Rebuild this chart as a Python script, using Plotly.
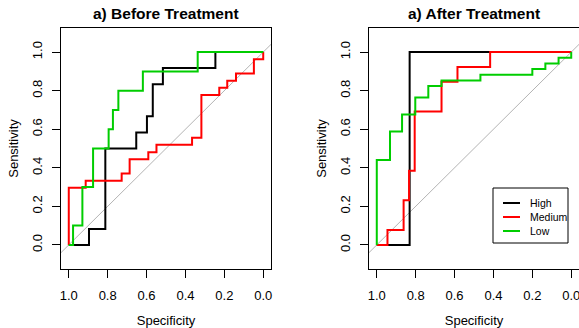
import plotly.graph_objects as go

# ---------------- data ----------------
tick_vals = [0.0, 0.2, 0.4, 0.6, 0.8, 1.0]
tick_text = ["0.0", "0.2", "0.4", "0.6", "0.8", "1.0"]

groups = ["High", "Medium", "Low"]
colors = {"High": "#000000", "Medium": "#FF0000", "Low": "#00CD00"}

# Before treatment: ROC corner points (specificity, sensitivity)
before_high_spec = [1.0, 0.896, 0.812, 0.653, 0.598, 0.568, 0.516, 0.246, 0.0]
before_high_sens = [0.0, 0.083, 0.500, 0.583, 0.667, 0.833, 0.917, 1.0, 1.0]

before_med_spec = [1.0, 1.0, 0.913, 0.728, 0.687, 0.591, 0.549, 0.366, 0.318,
                   0.226, 0.185, 0.140, 0.048, 0.0]
before_med_sens = [0.0, 0.296, 0.333, 0.370, 0.444, 0.481, 0.519, 0.556, 0.778,
                   0.815, 0.852, 0.889, 0.963, 1.0]

before_low_spec = [1.0, 0.978, 0.930, 0.875, 0.795, 0.773, 0.745, 0.619, 0.337, 0.0]
before_low_sens = [0.0, 0.100, 0.300, 0.500, 0.600, 0.700, 0.800, 0.900, 1.0, 1.0]

# After treatment
after_high_spec = [1.0, 0.831, 0.0]
after_high_sens = [0.0, 1.0, 1.0]

after_med_spec = [1.0, 0.945, 0.862, 0.834, 0.805, 0.667, 0.585, 0.417, 0.0]
after_med_sens = [0.0, 0.077, 0.231, 0.385, 0.692, 0.846, 0.923, 1.0, 1.0]

after_low_spec = [1.0, 1.0, 0.932, 0.870, 0.802, 0.735, 0.667, 0.467, 0.200,
                  0.133, 0.065, 0.0]
after_low_sens = [0.0, 0.441, 0.588, 0.676, 0.765, 0.824, 0.853, 0.882, 0.912,
                  0.941, 0.971, 1.0]

titles = ["a) Before Treatment", "a) After Treatment"]

before = {"High": (before_high_spec, before_high_sens),
          "Medium": (before_med_spec, before_med_sens),
          "Low": (before_low_spec, before_low_sens)}
after = {"High": (after_high_spec, after_high_sens),
         "Medium": (after_med_spec, after_med_sens),
         "Low": (after_low_spec, after_low_sens)}

# ---------------- figure ----------------
W, H = 579, 328
ML, MR, MT, MB = 61, 0, 28, 59
PW = W - ML - MR
PH = H - MT - MB

XR = [1.04, -0.04]
YR = [-0.125, 1.125]

FONT = "Liberation Sans, Arial, Helvetica, sans-serif"


def px_x(px):
    return (px - ML) / PW


def px_y(py):
    return (H - MB - py) / PH


fig = go.Figure()

for idx, data in enumerate([before, after]):
    xa = "x" if idx == 0 else "x2"
    ya = "y" if idx == 0 else "y2"
    for g in groups:
        sp, se = data[g]
        fig.add_trace(go.Scatter(
            x=sp, y=se, mode="lines", name=g,
            line=dict(color=colors[g], width=2, shape="hv"),
            xaxis=xa, yaxis=ya, showlegend=False, hoverinfo="skip"))
    fig.add_shape(type="line", xref=xa, yref=ya,
                  x0=XR[0], y0=1 - XR[0], x1=XR[1], y1=1 - XR[1],
                  line=dict(color="#B4B4B4", width=1), layer="below")

axis_common = dict(
    showgrid=False, zeroline=False, showline=True, mirror=True,
    linecolor="black", linewidth=1, ticks="outside", ticklen=8,
    tickwidth=1, tickcolor="black", tickvals=tick_vals, ticktext=tick_text,
    tickfont=dict(family=FONT, size=13, color="black"),
    ticklabeloverflow="allow",
)

xdom_left = [0, 210 / PW]
xdom_right = [308 / PW, 1.0]

xt = dict(text="Specificity", font=dict(size=13), standoff=14)
yt = dict(text="Sensitivity", font=dict(size=13), standoff=8)

fig.update_layout(
    width=W, height=H,
    margin=dict(l=ML, r=MR, t=MT, b=MB, autoexpand=False),
    paper_bgcolor="white", plot_bgcolor="white",
    font=dict(family=FONT, color="black"),
    xaxis=dict(domain=xdom_left, range=XR, anchor="y",
               ticklabelstandoff=6, title=xt, **axis_common),
    yaxis=dict(domain=[0, 1], range=YR, anchor="x", tickangle=-90,
               ticklabelstandoff=5, title=yt, **axis_common),
    xaxis2=dict(domain=xdom_right, range=XR, anchor="y2",
                ticklabelstandoff=6, title=xt, **axis_common),
    yaxis2=dict(domain=[0, 1], range=YR, anchor="x2", tickangle=-90,
                ticklabelstandoff=5, title=yt, **axis_common),
    showlegend=False,
)

for i, t in enumerate(titles):
    dom = xdom_left if i == 0 else xdom_right
    fig.add_annotation(text="<b>" + t + "</b>", xref="paper", yref="paper",
                       x=(dom[0] + dom[1]) / 2, y=px_y(14),
                       xanchor="center", yanchor="middle", showarrow=False,
                       font=dict(family=FONT, size=15.5, color="black"))

# legend box (right panel), drawn like R's legend()
fig.add_shape(type="rect", xref="paper", yref="paper",
              x0=px_x(493), x1=px_x(568), y0=px_y(243), y1=px_y(188),
              line=dict(color="black", width=1), fillcolor="white", layer="above")
legend_rows = [203, 217, 231]
for g, ry in zip(groups, legend_rows):
    fig.add_shape(type="line", xref="paper", yref="paper",
                  x0=px_x(503), x1=px_x(520), y0=px_y(ry), y1=px_y(ry),
                  line=dict(color=colors[g], width=2), layer="above")
    fig.add_annotation(text=g, xref="paper", yref="paper",
                       x=px_x(528), y=px_y(ry), xanchor="left", yanchor="middle",
                       showarrow=False,
                       font=dict(family=FONT, size=10.5, color="black"))

fig.write_html("out.html",
               config={"displayModeBar": False},
               post_script="document.body.style.margin='0';"
                           "document.body.style.padding='0';")
